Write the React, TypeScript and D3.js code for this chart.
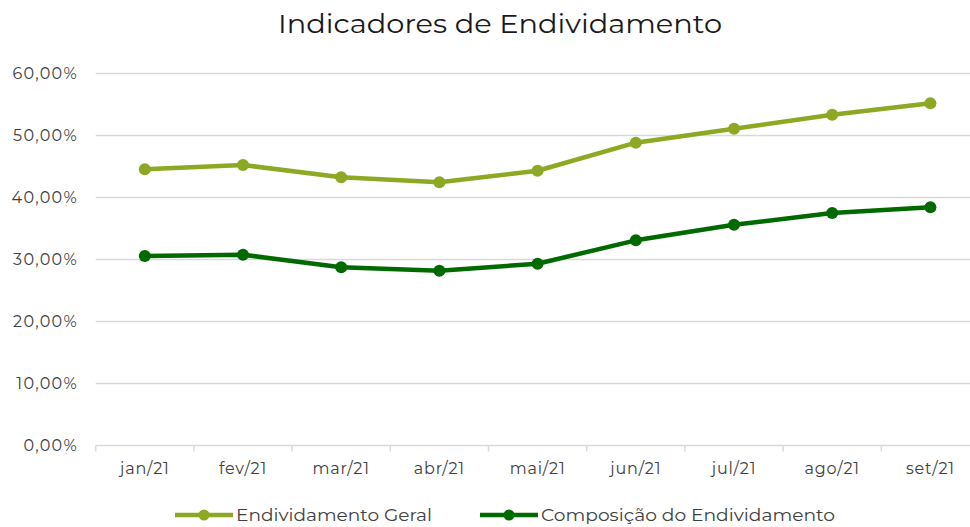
import React from "react";
import * as d3 from "d3";

const categories = ["jan/21", "fev/21", "mar/21", "abr/21", "mai/21", "jun/21", "jul/21", "ago/21", "set/21"];
const geral = [44.55, 45.24, 43.26, 42.45, 44.32, 48.84, 51.1, 53.35, 55.19];
const composicao = [30.56, 30.77, 28.74, 28.2, 29.32, 33.09, 35.6, 37.5, 38.42];
const yTicks = [0, 10, 20, 30, 40, 50, 60];
const seriesNames = ["Endividamento Geral", "Composição do Endividamento"];
const colors = ["#8DA823", "#006A00"];

const W = 970;
const H = 527;
const FONT = "Montserrat, 'Open Sans', 'Noto Sans', sans-serif";

export default function App() {
  const x = d3.scaleBand<string>().domain(categories).range([95.7, 979.5]);
  const y = d3.scaleLinear().domain([0, 60]).range([445.5, 73.5]);
  const line = d3
    .line<number>()
    .x((_, i) => (x(categories[i]) as number) + x.bandwidth() / 2)
    .y((d) => y(d));
  const series = [geral, composicao];
  const fmt = (v: number) => v.toFixed(2).replace(".", ",") + "%";

  const legendItems = [
    { x0: 175, name: seriesNames[0], color: colors[0], len: 196 },
    { x0: 480, name: seriesNames[1], color: colors[1], len: 294 },
  ];

  return (
    <svg width={W} height={H} style={{ position: "absolute", left: 0, top: 0, background: "#fff" }}>
      <text
        x={278}
        y={33}
        fontFamily={FONT}
        fontSize={27}
        fill="#1a1a1a"
        textLength={444}
        lengthAdjust="spacingAndGlyphs"
      >
        Indicadores de Endividamento
      </text>
      {yTicks.map((t) => (
        <g key={t}>
          <line x1={95.7} x2={979.5} y1={y(t)} y2={y(t)} stroke="#d9d9d9" strokeWidth={1.5} />
          <text
            x={78}
            y={y(t) + 5.5}
            textAnchor="end"
            fontFamily={FONT}
            fontSize={16}
            letterSpacing={1.3}
            fill="#404040"
          >
            {fmt(t)}
          </text>
        </g>
      ))}
      {categories.map((c) => (
        <g key={c}>
          <line x1={x(c) as number} x2={x(c) as number} y1={y(0)} y2={y(0) + 6} stroke="#d9d9d9" strokeWidth={1.5} />
          <text
            x={(x(c) as number) + x.bandwidth() / 2}
            y={474}
            textAnchor="middle"
            fontFamily={FONT}
            fontSize={16}
            letterSpacing={0.8}
            fill="#404040"
          >
            {c}
          </text>
        </g>
      ))}
      {series.map((s, si) => (
        <g key={si}>
          <path d={line(s) as string} fill="none" stroke={colors[si]} strokeWidth={4.5} strokeLinejoin="round" />
          {s.map((v, i) => (
            <circle
              key={i}
              cx={(x(categories[i]) as number) + x.bandwidth() / 2}
              cy={y(v)}
              r={6}
              fill={colors[si]}
            />
          ))}
        </g>
      ))}
      {legendItems.map((l) => (
        <g key={l.name}>
          <line x1={l.x0} x2={l.x0 + 58} y1={515} y2={515} stroke={l.color} strokeWidth={4.5} />
          <circle cx={l.x0 + 29} cy={515} r={5.5} fill={l.color} />
          <text
            x={l.x0 + 61}
            y={521}
            fontFamily={FONT}
            fontSize={17}
            fill="#404040"
            textLength={l.len}
            lengthAdjust="spacingAndGlyphs"
          >
            {l.name}
          </text>
        </g>
      ))}
    </svg>
  );
}
